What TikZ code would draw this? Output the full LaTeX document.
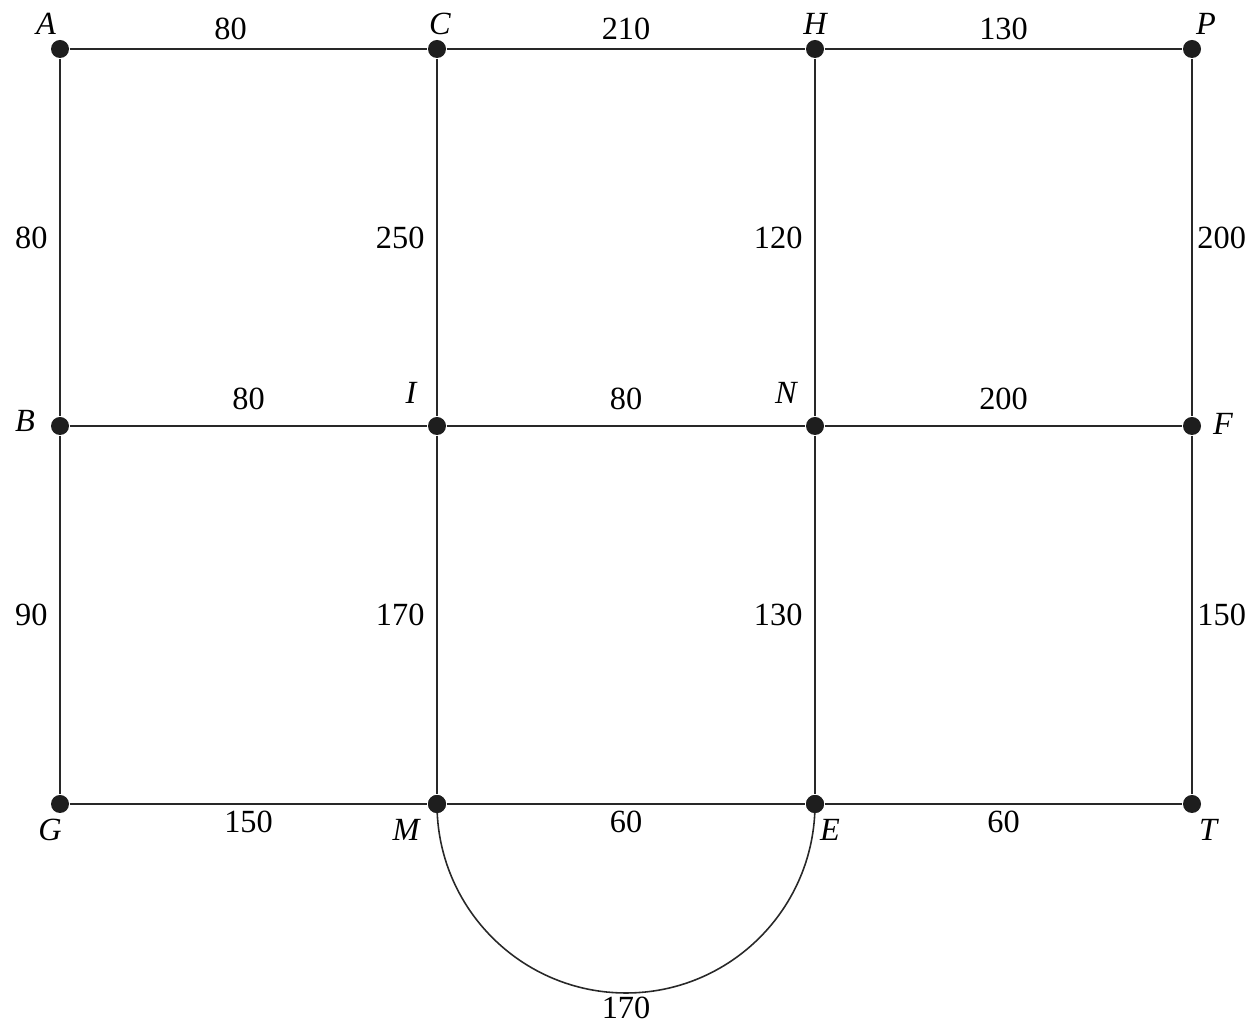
\documentclass[tikz,border=0pt]{standalone}
\usepackage{fontspec}
\setmainfont{Liberation Serif}
\usepackage{xcolor}
\usetikzlibrary{positioning}
\definecolor{dotcolor}{RGB}{30,30,30}
\definecolor{linecolor}{RGB}{40,40,40}

\begin{document}
\begin{tikzpicture}[every node/.style={font=\fontsize{9.2}{11}\selectfont}]
\tikzset{vertex/.style={circle,fill=dotcolor,inner sep=0pt,minimum size=0.18cm},
  edge/.style={draw=linecolor,line width=0.45pt},
  vlab/.style={font=\fontsize{9.2}{11}\itshape\selectfont,inner sep=0pt,anchor=center}}
\useasboundingbox (0,0) rectangle (12.58,-10.26);

% top row
\node[vertex,label={[vlab,xshift=-0.14cm,yshift=0.25cm]center:A}] (A) at (0.60,-0.49) {};
\node[vertex,label={[vlab,xshift=0.03cm,yshift=0.25cm]center:C}]  (C) at (4.37,-0.49) {};
\node[vertex,label={[vlab,xshift=0cm,yshift=0.25cm]center:H}]     (H) at (8.15,-0.49) {};
\node[vertex,label={[vlab,xshift=0.14cm,yshift=0.25cm]center:P}]  (P) at (11.92,-0.49) {};
% middle row
\node[vertex,label={[vlab,xshift=-0.35cm,yshift=0.05cm]center:B}] (B) at (0.60,-4.26) {};
\node[vertex,label={[vlab,xshift=-0.26cm,yshift=0.33cm]center:I}] (I) at (4.37,-4.26) {};
\node[vertex,label={[vlab,xshift=-0.29cm,yshift=0.33cm]center:N}] (N) at (8.15,-4.26) {};
\node[vertex,label={[vlab,xshift=0.31cm,yshift=0.02cm]center:F}]  (F) at (11.92,-4.26) {};
% bottom row
\node[vertex,label={[vlab,xshift=-0.10cm,yshift=-0.26cm]center:G}] (G) at (0.60,-8.04) {};
\node[vertex,label={[vlab,xshift=-0.31cm,yshift=-0.26cm]center:M}] (M) at (4.37,-8.04) {};
\node[vertex,label={[vlab,xshift=0.15cm,yshift=-0.26cm]center:E}]  (E) at (8.15,-8.04) {};
\node[vertex,label={[vlab,xshift=0.16cm,yshift=-0.26cm]center:T}]  (T) at (11.92,-8.04) {};

\draw[edge] (A)--(C) node[pos=0.45,above=-1pt]{80};
\draw[edge] (C)--(H) node[midway,above=-1pt]{210};
\draw[edge] (H)--(P) node[midway,above=-1pt]{130};
\draw[edge] (A)--(B) node[midway,left]{80};
\draw[edge] (C)--(I) node[midway,left]{250};
\draw[edge] (H)--(N) node[midway,left]{120};
\draw[edge] (P)--(F) node[midway,right=-2pt]{200};
\draw[edge] (B)--(I) node[midway,above=1pt]{80};
\draw[edge] (I)--(N) node[midway,above=1pt]{80};
\draw[edge] (N)--(F) node[midway,above=1pt]{200};
\draw[edge] (B)--(G) node[midway,left]{90};
\draw[edge] (I)--(M) node[midway,left]{170};
\draw[edge] (N)--(E) node[midway,left]{130};
\draw[edge] (F)--(T) node[midway,right=-2pt]{150};
\draw[edge] (G)--(M) node[midway,below=-1.5pt]{150};
\draw[edge] (M)--(E) node[midway,below=-1.5pt]{60};
\draw[edge] (E)--(T) node[midway,below=-1.5pt]{60};
\draw[edge] (M.center) arc[start angle=180,end angle=360,radius=1.89] node[pos=0.5,below,inner sep=1pt]{170};
\node[vertex] at (M) {};
\node[vertex] at (E) {};
\end{tikzpicture}
\end{document}
